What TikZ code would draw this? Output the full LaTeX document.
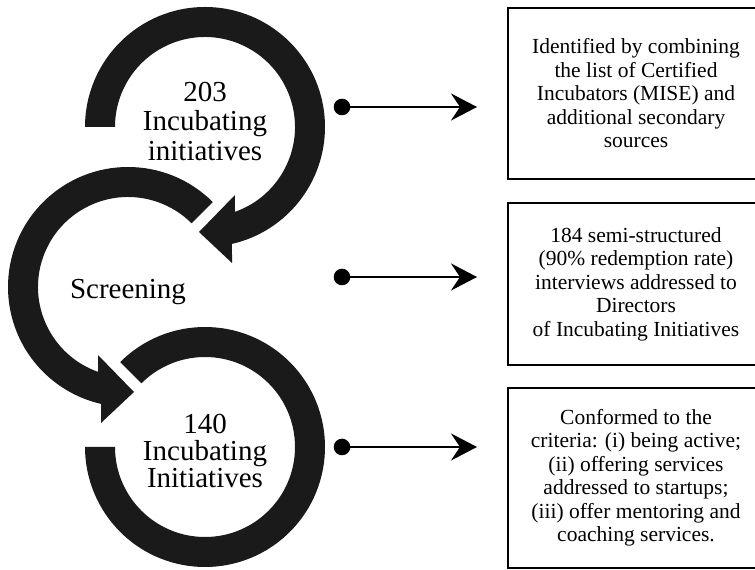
\documentclass[tikz,border=0pt]{standalone}
\usepackage{fontspec}
\setmainfont{Liberation Serif}
\usetikzlibrary{arrows.meta}
\definecolor{ringgray}{HTML}{1A1A1A}

\begin{document}
\begin{tikzpicture}[x=1pt,y=1pt,
  ring/.style={fill=ringgray},
  ringtext/.style={inner sep=0pt,align=center,font=\fontsize{29}{29.5}\selectfont},
  dot/.style={circle,fill=black,inner sep=0pt,minimum size=16.6pt},
  link/.style={line width=2pt,-{Stealth[length=26pt,width=27pt,inset=9pt]}},
  infobox/.style={draw,line width=2.6pt,minimum width=256pt,inner sep=0pt,align=center,
    font=\fontsize{21.5}{23.5}\selectfont}]
\useasboundingbox (0,0) rectangle (755,570);
\clip (0,0) rectangle (755,570);

% ring 1, turns down into the screening ring
\begin{scope}[shift={(205,443)}]
\fill[ring] (180:120) arc[start angle=180,end angle=-77,radius=120]
  -- (27,-136) -- (-6,-105) -- (30,-68)
  -- (-70.6:90) arc[start angle=-70.6,end angle=180,radius=90] -- cycle;
\end{scope}
% ring 2 (screening)
\begin{scope}[shift={(128,283)}]
\fill[ring] (45:120) arc[start angle=45,end angle=257,radius=120]
  -- (-27,-136) -- (6,-105) -- (-30,-68)
  -- (250.6:90) arc[start angle=250.6,end angle=45,radius=90] -- cycle;
\end{scope}
% ring 3, no head
\begin{scope}[shift={(205,123)}]
\fill[ring] (135:120) arc[start angle=135,end angle=-180,radius=120]
  -- (180:90) arc[start angle=180,end angle=495,radius=90] -- cycle;
\end{scope}

\node[ringtext] (first) at (205,448.5) {203\\Incubating\\initiatives};
\node[ringtext] (screen) at (128,278) {Screening};
\node[ringtext,font=\fontsize{29}{27}\selectfont] (final) at (205,119) {140\\Incubating\\Initiatives};

\foreach \y/\n in {463/1,293/2,123/3} {
  \node[dot] (d\n) at (342,\y) {};
  \coordinate (t\n) at (477,\y);
  \draw[link] (d\n.center) -- (t\n);
}

\node[infobox,minimum height=171pt] (src) at (636,476.5)
  {Identified by combining\\the list of Certified\\Incubators (MISE) and\\additional secondary\\sources};
\node[infobox,minimum height=162pt] (intv) at (636,286)
  {184 semi-structured\\(90\% redemption rate)\\interviews addressed to\\Directors\\of Incubating Initiatives};
\node[infobox,minimum height=180pt] (crit) at (636,92)
  {Conformed to the\\criteria: (i) being active;\\(ii) offering services\\addressed to startups;\\(iii) offer mentoring and\\coaching services.};
\end{tikzpicture}
\end{document}
